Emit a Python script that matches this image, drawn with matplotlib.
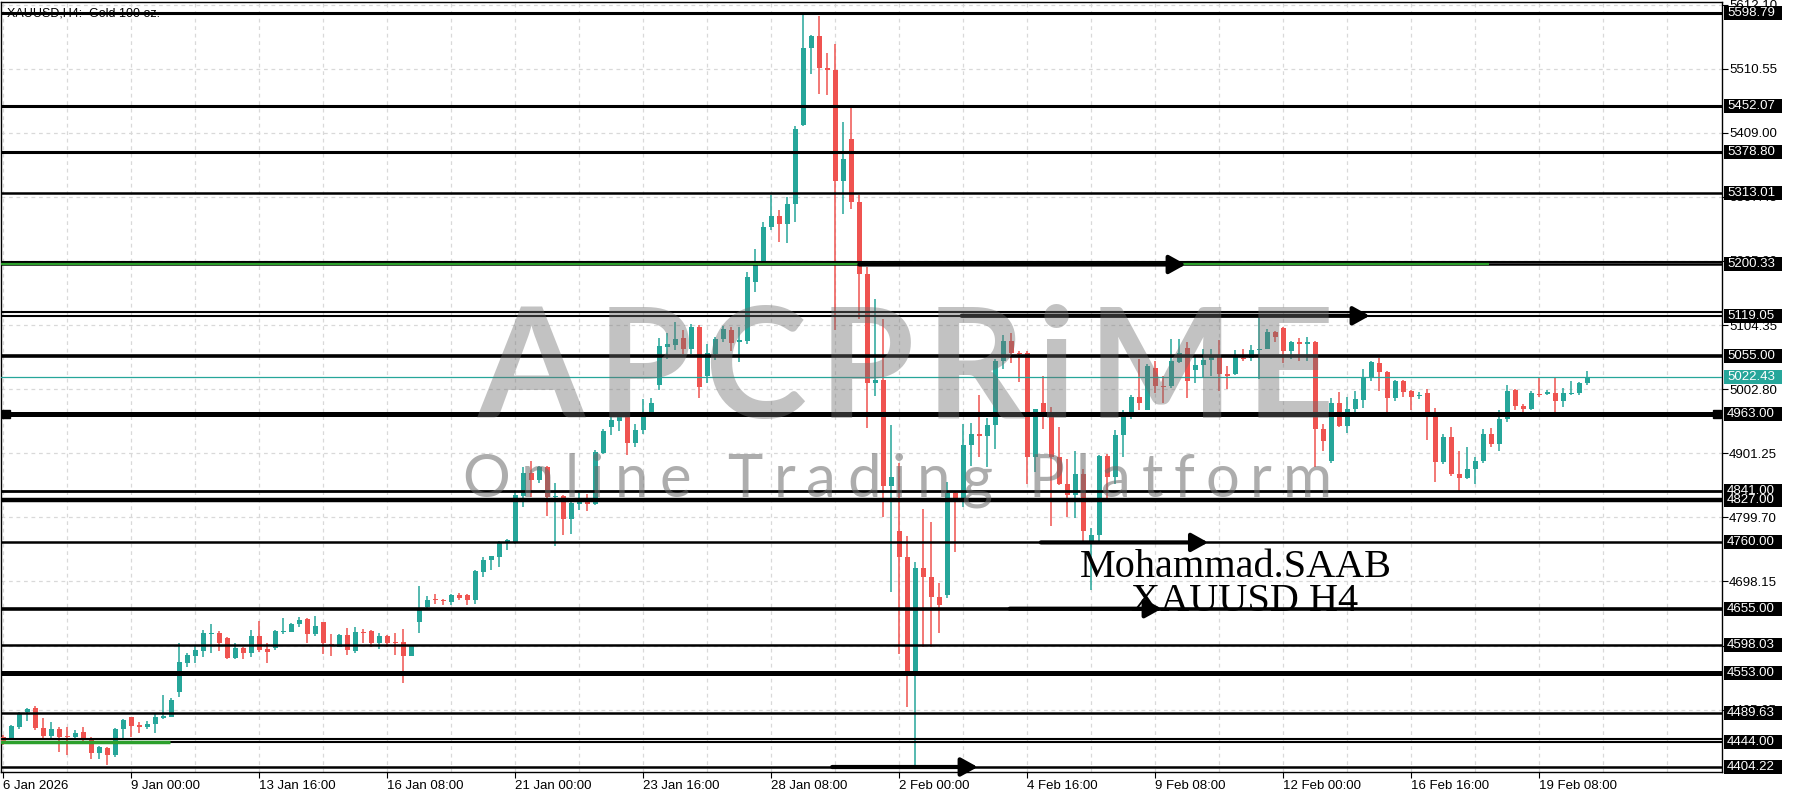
import matplotlib
matplotlib.use("Agg")
import matplotlib.pyplot as plt
import matplotlib.transforms as mtransforms
from matplotlib.patches import Rectangle

# XAUUSD H4 candles, 6 Jan 08:00 .. 20 Feb 08:00
opens = [4452.3, 4448.1, 4468.2, 4491.9, 4497.7, 4465.5, 4453.9, 4464.0, 4453.4, 4452.3,
         4460.3, 4449.7, 4425.9, 4434.4, 4423.3, 4464.0, 4483.0, 4469.2, 4468.2, 4471.9,
         4481.9, 4484.0, 4523.6, 4569.6, 4580.1, 4588.6, 4615.0, 4617.1, 4608.1, 4577.5,
         4592.2, 4585.4, 4611.8, 4591.2, 4592.3, 4618.1, 4618.7, 4630.3, 4638.2, 4614.4,
         4634.0, 4599.1, 4594.9, 4613.4, 4588.6, 4618.7, 4620.2, 4600.2, 4612.3, 4602.3,
         4602.3, 4580.6, 4634.5, 4657.0, 4669.5, 4667.5, 4665.5, 4676.1, 4676.1, 4668.2,
         4713.1, 4732.7, 4736.9, 4759.1, 4760.7, 4833.0, 4870.0, 4859.5, 4879.6, 4832.0,
         4833.0, 4797.6, 4821.4, 4824.1, 4821.4, 4902.3, 4943.0, 4952.5, 4958.8, 4917.6,
         4938.7, 4965.1, 5009.0, 5069.8, 5072.4, 5084.6, 5067.1, 5101.5, 5023.3, 5059.2,
         5083.0, 5097.2, 5077.7, 5078.4, 5173.0, 5204.5, 5259.7, 5277.9, 5263.7, 5296.8,
         5421.4, 5543.6, 5561.7, 5512.1, 5508.1, 5333.1, 5399.3, 5299.2, 5184.9, 5012.9,
         5017.7, 4849.7, 4778.7, 4736.9, 4550.1, 4719.6, 4705.4, 4673.9, 4676.2, 4837.9,
         4830.0, 4914.4, 4932.5, 4928.6, 4946.7, 5046.8, 5078.4, 5060.7, 5060.7, 4895.9,
         4980.4, 4959.0, 4895.9, 4853.1, 4834.4, 4868.1, 4762.2, 4771.8, 4897.5, 4863.8,
         4929.6, 4959.0, 4991.1, 4969.7, 5036.6, 5008.3, 5007.2, 5045.7, 5068.7, 5032.9,
         5040.4, 5048.9, 5054.3, 5025.9, 5027.5, 5052.7, 5052.7, 5065.0, 5067.1, 5093.9,
         5099.2, 5063.4, 5077.8, 5074.1, 5077.8, 4940.3, 4889.5, 4980.4, 4944.1, 4970.8,
         4985.8, 5020.6, 5043.6, 5029.7, 4989.5, 5015.2, 4999.2, 4992.2, 4996.5, 4959.0,
         4886.8, 4926.9, 4869.2, 4862.7, 4876.1, 4888.4, 4932.3, 4915.2, 4954.8, 5000.8,
         4976.2, 4971.9, 4995.4, 4995.4, 4996.5, 4984.7, 4995.4, 4996.5, 5012.6]
highs = [4455.0, 4470.8, 4491.9, 4497.2, 4500.9, 4481.4, 4476.1, 4468.2, 4468.2, 4462.9,
         4467.1, 4451.3, 4437.6, 4436.5, 4465.5, 4479.8, 4484.0, 4476.1, 4477.7, 4490.4,
         4518.3, 4513.1, 4601.2, 4585.4, 4596.0, 4621.3, 4630.3, 4620.2, 4609.7, 4601.2,
         4594.9, 4621.3, 4635.6, 4601.2, 4621.3, 4640.8, 4631.9, 4642.4, 4640.3, 4643.5,
         4634.5, 4615.0, 4615.0, 4623.9, 4626.6, 4622.4, 4621.3, 4616.0, 4613.4, 4616.0,
         4622.4, 4597.5, 4691.0, 4675.2, 4677.7, 4670.8, 4678.7, 4679.8, 4677.7, 4716.8,
         4736.9, 4738.5, 4762.2, 4765.9, 4843.6, 4879.6, 4889.0, 4880.6, 4880.6, 4854.2,
         4834.6, 4826.7, 4838.3, 4836.2, 4906.0, 4940.3, 4966.7, 4966.7, 4961.4, 4948.2,
         4987.9, 4989.5, 5084.6, 5092.0, 5109.4, 5096.2, 5105.7, 5104.1, 5075.1, 5085.6,
         5102.5, 5101.5, 5101.5, 5188.8, 5224.2, 5267.6, 5311.0, 5287.3, 5307.0, 5419.8,
         5596.4, 5563.3, 5594.8, 5535.7, 5549.1, 5425.3, 5449.0, 5311.0, 5196.7, 5145.4,
         5113.9, 4946.7, 4885.2, 4770.9, 4729.1, 4812.6, 4792.1, 4696.0, 4855.2, 4841.8,
         4948.3, 4949.9, 4993.2, 4957.7, 5050.8, 5088.6, 5091.8, 5063.4, 5063.4, 4972.0,
         5024.3, 4975.1, 4943.0, 4892.0, 4905.5, 4876.1, 4782.5, 4899.0, 4900.0, 4937.6,
         4969.7, 4994.0, 5050.0, 5042.0, 5047.3, 5023.3, 5082.1, 5082.1, 5077.8, 5055.3,
         5066.0, 5066.0, 5081.0, 5039.3, 5065.0, 5066.0, 5072.5, 5119.5, 5098.1, 5095.5,
         5100.8, 5079.4, 5083.2, 5084.8, 5079.4, 4948.3, 4988.5, 4997.6, 4991.1, 4999.2,
         5035.0, 5047.3, 5052.7, 5031.3, 5017.9, 5017.9, 5000.8, 4997.6, 5002.9, 4972.4,
         4932.3, 4943.0, 4905.5, 4910.9, 4894.8, 4940.3, 4941.4, 4969.7, 5009.9, 5002.9,
         4979.4, 4999.2, 5022.2, 5001.8, 5022.2, 5004.5, 5015.2, 5013.6, 5031.3]
lows = [4439.0, 4447.1, 4464.0, 4477.7, 4462.9, 4447.1, 4448.1, 4428.6, 4423.3, 4448.1,
        4442.8, 4416.4, 4416.4, 4407.5, 4419.6, 4447.1, 4452.3, 4457.6, 4464.0, 4457.6,
        4479.8, 4483.0, 4514.6, 4562.2, 4569.6, 4579.1, 4585.4, 4588.6, 4575.9, 4575.9,
        4574.8, 4578.0, 4587.0, 4569.6, 4589.6, 4615.0, 4618.1, 4625.5, 4600.2, 4611.8,
        4583.3, 4580.6, 4593.8, 4581.7, 4584.3, 4600.2, 4593.8, 4591.7, 4593.8, 4581.7,
        4536.8, 4580.1, 4617.1, 4655.1, 4662.9, 4660.3, 4660.3, 4668.2, 4660.3, 4662.9,
        4705.2, 4715.7, 4721.0, 4747.4, 4758.0, 4816.1, 4832.0, 4854.2, 4801.4, 4753.8,
        4771.2, 4772.8, 4811.9, 4809.8, 4818.8, 4899.6, 4929.7, 4936.6, 4898.0, 4911.3,
        4931.3, 4958.8, 5002.1, 5051.3, 5064.5, 5058.1, 5058.1, 4989.5, 5012.7, 5048.6,
        5077.7, 5063.4, 5046.0, 5074.4, 5157.2, 5202.2, 5254.2, 5236.1, 5233.7, 5267.6,
        5419.8, 5501.8, 5470.3, 5468.7, 5096.5, 5281.0, 5289.0, 5113.9, 4942.0, 4991.6,
        4800.0, 4681.8, 4584.0, 4498.8, 4404.2, 4595.0, 4595.0, 4617.1, 4672.3, 4744.8,
        4815.8, 4881.3, 4894.7, 4878.9, 4907.3, 5035.0, 5044.5, 5013.6, 4852.0, 4870.8,
        4940.0, 4786.8, 4851.0, 4799.6, 4798.6, 4761.1, 4684.0, 4761.1, 4825.3, 4852.0,
        4894.8, 4955.0, 4969.7, 4969.7, 4996.5, 4981.5, 5004.5, 5044.6, 4988.5, 5012.6,
        5020.6, 5023.3, 4999.2, 5002.9, 5025.9, 5047.3, 5047.3, 5019.0, 5066.0, 5077.8,
        5044.6, 5051.1, 5047.3, 5047.3, 4878.8, 4905.5, 4885.2, 4943.0, 4933.4, 4964.4,
        4972.4, 5015.2, 4999.2, 4964.4, 4984.2, 4991.1, 4969.7, 4986.9, 4922.7, 4855.8,
        4884.1, 4865.4, 4841.3, 4861.1, 4852.0, 4885.2, 4910.9, 4904.5, 4951.0, 4969.7,
        4964.4, 4969.7, 4991.1, 4993.8, 4964.4, 4975.1, 4993.8, 4993.8, 5009.9]
closes = [4441.8, 4469.2, 4490.4, 4495.6, 4465.5, 4453.4, 4464.0, 4452.3, 4452.3, 4458.7,
          4449.2, 4425.9, 4435.4, 4423.8, 4464.5, 4478.7, 4469.8, 4468.2, 4472.4, 4483.0,
          4485.1, 4510.4, 4571.1, 4581.7, 4589.6, 4616.0, 4617.1, 4600.2, 4577.0, 4592.2,
          4585.4, 4611.8, 4589.6, 4587.0, 4619.7, 4619.7, 4630.8, 4637.1, 4614.4, 4627.6,
          4600.2, 4596.0, 4613.4, 4589.6, 4618.1, 4616.0, 4600.2, 4612.3, 4600.2, 4600.2,
          4580.6, 4596.5, 4654.0, 4669.0, 4668.5, 4666.5, 4676.1, 4672.4, 4668.2, 4714.2,
          4732.7, 4737.9, 4759.6, 4764.4, 4834.6, 4870.0, 4859.5, 4879.6, 4832.0, 4832.8,
          4797.6, 4822.5, 4824.1, 4821.4, 4903.3, 4936.6, 4953.5, 4961.4, 4917.6, 4938.7,
          4965.1, 4981.0, 5070.8, 5074.0, 5083.0, 5067.1, 5101.5, 5006.4, 5060.3, 5083.0,
          5098.8, 5076.1, 5080.3, 5180.9, 5200.6, 5259.7, 5277.1, 5263.7, 5296.8, 5415.1,
          5543.6, 5561.7, 5512.1, 5508.1, 5333.1, 5367.8, 5299.2, 5184.9, 5012.9, 5017.7,
          4849.7, 4863.1, 4736.9, 4550.1, 4719.6, 4705.4, 4673.9, 4660.5, 4837.9, 4830.0,
          4914.4, 4932.5, 4928.6, 4946.7, 5046.8, 5078.4, 5060.0, 5058.0, 4895.9, 4970.8,
          4959.0, 4895.9, 4853.1, 4834.4, 4868.1, 4778.2, 4771.8, 4897.5, 4863.8, 4929.6,
          4959.0, 4991.1, 4981.5, 5039.3, 5008.3, 5006.1, 5047.3, 5059.6, 5015.2, 5040.4,
          5048.9, 5054.3, 5027.0, 5024.3, 5054.3, 5051.1, 5065.0, 5067.1, 5093.9, 5084.8,
          5063.4, 5077.8, 5074.1, 5077.8, 4940.3, 4920.5, 4980.4, 4944.1, 4970.8, 4986.9,
          5020.6, 5045.7, 5029.7, 4989.5, 5015.2, 4997.6, 4991.1, 4992.7, 4959.0, 4886.8,
          4926.9, 4869.2, 4862.7, 4876.1, 4889.5, 4932.3, 4915.2, 4954.8, 4999.2, 4976.2,
          4971.9, 4996.5, 4993.8, 4997.6, 4984.7, 4996.5, 4996.5, 5012.6, 5022.43]

# time axis labels (bar index -> text)
date_ticks = [0, 16, 32, 48, 64, 80, 96, 112, 128, 144, 160, 176, 192]
date_labels = ["6 Jan 2026", "9 Jan 00:00", "13 Jan 16:00", "16 Jan 08:00", "21 Jan 00:00",
               "23 Jan 16:00", "28 Jan 08:00", "2 Feb 00:00", "4 Feb 16:00", "9 Feb 08:00",
               "12 Feb 00:00", "16 Feb 16:00", "19 Feb 08:00"]

# price scale
price_ticks = [5612.10, 5510.55, 5409.00, 5307.45, 5205.90, 5104.35, 5002.80,
               4901.25, 4799.70, 4698.15, 4596.60, 4495.05]

# drawn horizontal levels
levels = [5598.79, 5452.07, 5378.80, 5313.01, 5200.33, 5119.05, 5055.00, 4963.00,
          4841.00, 4827.00, 4760.00, 4655.00, 4598.03, 4553.00, 4489.63, 4444.00, 4404.22]
level_lw = [2.2, 2.2, 2.2, 1.8, 1.8, 1.5, 2.6, 3.6, 2.0, 3.2, 1.8, 2.6, 1.8, 3.6, 1.8, 1.5, 1.8]
twin_levels = [5204.5, 5124.4, 4448.2]
last_price = 5022.43

# arrows: (price, start bar, end bar)
arrows = [(5200.33, 107.0, 147.8), (5119.05, 119.8, 170.8), (4760.00, 129.7, 150.6),
          (4655.00, 125.8, 144.8), (4404.22, 103.6, 121.8)]
# green levels: (price, start bar, end bar)
green_levels = [(5200.33, -1, 185.7), (4444.00, -1, 20.8)]

up_col = "#26a69a"
dn_col = "#ef5350"

W, H = 1800, 800
fig = plt.figure(figsize=(18, 8), dpi=100)
ax = fig.add_axes([1 / W, 28 / H, 1721 / W, 770 / H])
ax.set_xlim(-0.29, 214.84)
ax.set_ylim(4396.3, 5616.2)

# grid
for gx in range(0, 215, 8):
    ax.axvline(gx, color="#d9d9d9", lw=0.9, ls=(0, (3, 3)), zorder=0)
for gy in price_ticks:
    ax.axhline(gy, color="#d9d9d9", lw=0.9, ls=(0, (3, 3)), zorder=0)

# candles
for i in range(len(opens)):
    o, h, l, c = opens[i], highs[i], lows[i], closes[i]
    col = up_col if c >= o else dn_col
    ax.vlines(i, l, h, color=col, lw=1.1, zorder=2)
    ax.bar(i, max(abs(c - o), 1.8), bottom=min(o, c), width=0.62, color=col, lw=0, zorder=3)

# levels
for p, lw in zip(levels, level_lw):
    ax.axhline(p, color="black", lw=lw, zorder=4)
for p in twin_levels:
    ax.axhline(p, color="black", lw=1.5, zorder=4)
for p, x0, x1 in green_levels:
    ax.hlines(p, x0, x1, color="#2ca02c", lw=2.5 if p < 4500 else 1.6, zorder=4.5)
ax.axhline(last_price, color=up_col, lw=0.9, zorder=4)
ax.plot([0.3, 214.2], [4963.0, 4963.0], ls="none", marker="s", ms=6, color="black",
        zorder=5, clip_on=False)

for p, x0, x1 in arrows:
    ax.annotate("", xy=(x1, p), xytext=(x0, p),
                arrowprops=dict(arrowstyle="-|>,head_length=0.9,head_width=0.5",
                                lw=3.0, color="black", shrinkA=0, shrinkB=0,
                                mutation_scale=11), zorder=6)

# signature
ax.text(134.6, 4705.2, "Mohammad.SAAB", fontsize=29, family="Liberation Serif",
        color="black", va="baseline", ha="left", zorder=8)
ax.text(141.0, 4651.4, "XAUUSD H4", fontsize=29, family="Liberation Serif",
        color="black", va="baseline", ha="left", zorder=8)

# axes cosmetics
for s in ax.spines.values():
    s.set_color("black")
    s.set_linewidth(1.0)
ax.yaxis.tick_right()
ax.set_yticks(price_ticks)
ax.set_yticklabels(["%.2f" % t for t in price_ticks])
ax.set_xticks(date_ticks)
ax.set_xticklabels(date_labels, ha="left")
ax.tick_params(axis="y", direction="out", length=4, pad=1, labelsize=9.5)
ax.tick_params(axis="x", direction="out", length=4, pad=2, labelsize=9.5)
for lab in ax.get_xticklabels() + ax.get_yticklabels():
    lab.set_fontfamily("Liberation Sans")

# price boxes on the scale
trans = mtransforms.blended_transform_factory(ax.transAxes, ax.transData)
box_w = 58 / 1721
box_h = 14 * 1.5843
for p in levels + [last_price]:
    fc = up_col if p == last_price else "black"
    ax.add_patch(Rectangle((1.0012, p - box_h / 2), box_w, box_h, transform=trans,
                           facecolor=fc, edgecolor="none", clip_on=False, zorder=9))
    ax.text(1.0030, p, "%.2f" % p, transform=trans, color="white", fontsize=9.5,
            family="Liberation Sans", va="center", ha="left", clip_on=False, zorder=10)

fig.text(7 / W, 1 - 17 / H, "XAUUSD,H4:  Gold 100 oz.", fontsize=9,
         family="Liberation Sans", color="black", va="baseline", ha="left")


# watermark, letter-spaced to span a given pixel range
def tracked(s, x0, x1, base, **kw):
    r = fig.canvas.get_renderer()
    ws = []
    for ch in s:
        if ch == " ":
            ws.append(kw["fontsize"] * 0.35)
            continue
        t = fig.text(0, 0, ch, **kw)
        ws.append(t.get_window_extent(r).width)
        t.remove()
    gap = (x1 - x0 - sum(ws)) / (len(s) - 1)
    x = x0
    for ch, w in zip(s, ws):
        if ch != " ":
            fig.text(x / W, 1 - base / H, ch, va="baseline", ha="left", zorder=20, **kw)
        x += w + gap


tracked("APCPRiME", 478, 1334, 418, fontsize=111, family="Lato", fontweight="bold",
        color="#6e6e6e", alpha=0.42)
tracked("Online Trading Platform", 462, 1332, 497, fontsize=43, family="Lato",
        fontweight="normal", color="#6a6a6a", alpha=0.55)

fig.savefig("out.png", dpi=100)
